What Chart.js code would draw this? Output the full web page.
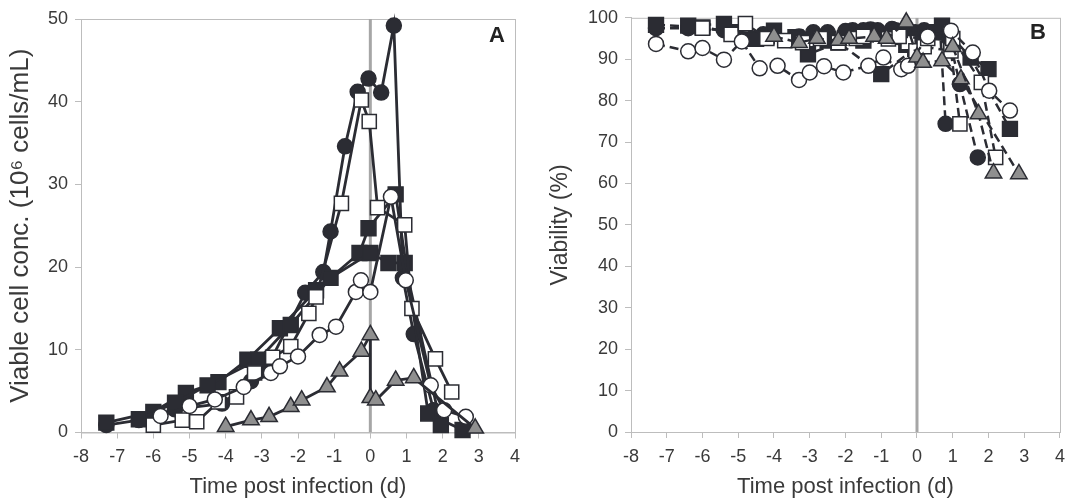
<!DOCTYPE html>
<html>
<head>
<meta charset="utf-8">
<script src="https://cdn.jsdelivr.net/npm/chart.js@4.4.1/dist/chart.umd.min.js"></script>
<style>
  html, body { margin: 0; padding: 0; background: #fff; }
  canvas { position: absolute; top: 0; }
</style>
</head>
<body>
<canvas id="chartA" width="536" height="502" style="left:0"></canvas>
<canvas id="chartB" width="537" height="502" style="left:536px"></canvas>
<script>
/* ---------------------------------------------------
   data (time post infection in d, value)
----------------------------------------------------- */
var xTicks = [-8, -7, -6, -5, -4, -3, -2, -1, 0, 1, 2, 3, 4];
var yTicksA = [0, 10, 20, 30, 40, 50];
var yTicksB = [0, 10, 20, 30, 40, 50, 60, 70, 80, 90, 100];

// panel A: viable cell conc. (10^6 cells/mL)
var cellsFilledCircle = [[-7.3,0.9],[-6.4,1.5],[-5.4,2.8],[-4.1,3.5],[-3.3,6.2],[-2.9,7.5],[-1.8,16.9],[-1.3,19.4],[-1.1,24.3],[-0.7,34.6],[-0.35,41.2],[-0.05,42.8],[0.3,41.1],[0.65,49.2],[0.9,18.7],[1.2,11.9],[1.75,2.7]];
var cellsFilledSquare1 = [[-7.3,1.2],[-6.0,2.5],[-5.1,4.8],[-4.2,6.1],[-3.4,8.8],[-2.5,12.6],[-1.5,17.2],[-0.3,21.7],[-0.05,24.7],[0.7,28.8],[1.6,2.3],[2.55,0.3]];
var cellsFilledSquare2 = [[-6.4,1.6],[-5.4,3.6],[-4.5,5.7],[-3.1,8.8],[-2.2,13.0],[-1.1,18.7],[0.0,21.7],[0.5,20.5],[0.95,20.5],[1.95,0.9]];
var cellsOpenSquare = [[-6.0,0.9],[-5.2,1.5],[-4.8,1.3],[-4.2,3.7],[-3.7,4.3],[-3.2,7.2],[-2.7,9.1],[-2.2,10.4],[-1.7,14.4],[-1.5,16.4],[-0.8,27.7],[-0.25,40.2],[-0.03,37.6],[0.2,27.2],[0.95,25.1],[1.15,15.0],[1.8,8.9],[2.25,4.9]];
var cellsOpenCircle = [[-5.8,2.0],[-5.0,3.2],[-4.3,4.0],[-3.5,5.5],[-2.75,7.2],[-2.5,8.0],[-2.0,9.2],[-1.4,11.8],[-0.95,12.8],[-0.4,17.0],[-0.26,18.4],[0.0,17.0],[0.57,28.5],[0.98,18.4],[1.67,5.7],[2.04,2.7],[2.64,1.9]];
var cellsTriangle = [[-4.0,0.7],[-3.3,1.5],[-2.8,1.9],[-2.2,3.1],[-1.9,3.9],[-1.2,5.5],[-0.85,7.4],[-0.25,9.8],[0.0,11.8],[0.0,4.2],[0.15,3.9],[0.7,6.3],[1.2,6.6],[2.9,0.5]];

// panel B: viability (%)
var viaFilledCircle1 = [[-7.3,97.5],[-6.4,97.5],[-5.4,97.0],[-4.3,96.0],[-3.3,95.5],[-2.9,96.5],[-1.8,97.0],[-1.3,97.2],[-1.1,97.0],[-0.7,97.3],[-0.35,97.0],[-0.05,96.5],[0.3,96.0],[0.65,96.5],[0.8,74.4]];
var viaFilledCircle2 = [[-2.5,96.5],[-2.0,96.8],[-1.5,97.0],[-0.6,97.0],[0.2,97.0],[0.9,95.0],[1.2,84.0],[1.7,66.3]];
var viaFilledSquare1 = [[-7.3,98.3],[-6.0,97.7],[-5.1,96.5],[-4.2,95.5],[-3.4,95.3],[-2.5,94.5],[-1.5,94.5],[-0.3,93.5],[-0.05,92.5],[0.7,98.1],[1.5,90.4],[2.6,73.2]];
var viaFilledSquare2 = [[-6.4,98.1],[-5.4,98.5],[-4.5,94.9],[-4.0,96.9],[-3.05,91.2],[-2.2,94.0],[-1.0,86.4],[0.0,93.0],[0.5,96.5],[0.95,94.0],[2.0,87.6]];
var viaOpenSquare1 = [[-6.0,97.5],[-5.2,96.0],[-4.8,98.6],[-4.2,95.0],[-3.7,94.5],[-3.2,94.0],[-2.7,95.0],[-2.2,94.0],[-1.7,95.0],[-1.5,95.5],[-0.8,94.9],[-0.25,94.0],[-0.03,92.0],[0.2,93.0],[0.95,92.0],[1.2,74.4]];
var viaOpenSquare2 = [[-0.5,95.5],[0.3,95.0],[1.0,95.0],[1.8,84.4],[2.2,66.3]];
var viaOpenCircle = [[-7.3,93.7],[-6.4,91.9],[-6.0,92.7],[-5.4,89.9],[-4.9,94.3],[-4.4,87.8],[-3.9,88.4],[-3.3,85.0],[-3.0,86.8],[-2.6,88.3],[-2.06,86.8],[-1.36,88.4],[-0.94,90.4],[-0.44,87.6],[-0.25,88.4],[0.3,95.5],[0.95,96.9],[1.56,91.6],[2.02,82.4],[2.6,77.6]];
var viaTriangle1 = [[-4.0,95.5],[-3.3,94.0],[-2.8,95.0],[-2.2,94.5],[-1.9,95.0],[-1.2,95.5],[-0.85,95.0],[-0.3,98.9],[0.0,90.5],[0.17,89.2],[0.7,89.6],[1.23,85.2],[2.85,62.3]];
var viaTriangle2 = [[1.0,93.0],[1.72,76.8],[2.14,62.5]];

/* ---------------------------------------------------
   styling helpers
----------------------------------------------------- */
var dark = '#2b2c33';
var triGray = '#8f8f8f';
var axisGray = '#bdbdbd';
var textCol = '#3a3a3a';
var fontName = '"Liberation Sans", Arial, sans-serif';

var markers = {
    fc: { style: 'circle', radius: 7.5, fill: dark },
    oc: { style: 'circle', radius: 7.5, fill: '#ffffff' },
    fs: { style: 'rect', radius: 10.5, fill: dark },
    os: { style: 'rect', radius: 10, fill: '#ffffff' },
    tr: { style: 'triangle', radius: 9.5, fill: triGray }
};

function series(arr, kind, dashed)
{
    var m = markers[kind];
    return {
        data: arr.map(function (p) { return { x: p[0], y: p[1] }; }),
        showLine: true,
        borderColor: dark,
        borderWidth: dashed ? 2.5 : 2.8,
        borderDash: dashed ? [9, 5] : [],
        pointStyle: m.style,
        pointRadius: m.radius,
        pointBackgroundColor: m.fill,
        pointBorderColor: dark,
        pointBorderWidth: 1.5,
        clip: false,
        order: 1
    };
}

function zeroLine(ymax)
{
    return {
        data: [{ x: 0, y: 0 }, { x: 0, y: ymax }],
        showLine: true,
        borderColor: '#a6a6a6',
        borderWidth: 3,
        pointRadius: 0,
        order: 10
    };
}

var framePlugin = {
    id: 'frame',
    beforeDatasetsDraw: function (chart) {
        var a = chart.chartArea, ctx = chart.ctx;
        ctx.save();
        ctx.strokeStyle = axisGray;
        ctx.lineWidth = 1;
        ctx.strokeRect(a.left + 0.5, a.top + 0.5, a.right - a.left, a.bottom - a.top);
        ctx.restore();
    },
    afterDraw: function (chart) {
        var opts = chart.options.plugins.frame, a = chart.chartArea, ctx = chart.ctx;
        ctx.save();
        ctx.fillStyle = '#222';
        ctx.font = 'bold 22px ' + fontName;
        ctx.textAlign = 'center';
        ctx.textBaseline = 'middle';
        ctx.fillText(opts.letter, a.right - opts.dx, a.top + opts.dy);
        ctx.restore();
    }
};

function makeChart(id, datasets, yTicks, yTitle, layout)
{
    var ctx = document.getElementById(id).getContext('2d');
    return new Chart(ctx, {
        type: 'scatter',
        data: { datasets: datasets },
        plugins: [framePlugin],
        options: {
            responsive: false,
            animation: false,
            devicePixelRatio: 1,
            layout: { padding: layout.padding },
            plugins: {
                legend: { display: false },
                tooltip: { enabled: false },
                frame: { letter: layout.letter, dx: layout.dx, dy: layout.dy }
            },
            scales: {
                x: {
                    type: 'linear',
                    min: xTicks[0],
                    max: xTicks[xTicks.length - 1],
                    afterBuildTicks: function (s) { s.ticks = xTicks.map(function (v) { return { value: v }; }); },
                    afterFit: function (s) { s.height = layout.xHeight; },
                    grid: { drawOnChartArea: false, color: axisGray, tickLength: 6 },
                    border: { color: axisGray },
                    ticks: { color: textCol, font: { family: fontName, size: 18 }, padding: 8, callback: function (v) { return String(v); } },
                    title: { display: true, text: 'Time post infection (d)', color: textCol, font: { family: fontName, size: 22 }, padding: { top: 0, bottom: 2 } }
                },
                y: {
                    type: 'linear',
                    min: yTicks[0],
                    max: yTicks[yTicks.length - 1],
                    afterBuildTicks: function (s) { s.ticks = yTicks.map(function (v) { return { value: v }; }); },
                    afterFit: function (s) { s.width = layout.yWidth; },
                    grid: { drawOnChartArea: false, color: axisGray, tickLength: 6 },
                    border: { color: axisGray },
                    ticks: { color: textCol, font: { family: fontName, size: 18 }, padding: 7, callback: function (v) { return String(v); } },
                    title: { display: true, text: yTitle, color: textCol, font: { family: fontName, size: layout.yTitleSize }, padding: { top: layout.yTitlePad, bottom: 0 } }
                }
            }
        }
    });
}

/* ---------------------------------------------------
   panel A
----------------------------------------------------- */
makeChart('chartA', [
    series(cellsTriangle, 'tr', false),
    series(cellsOpenCircle, 'oc', false),
    series(cellsOpenSquare, 'os', false),
    series(cellsFilledSquare2, 'fs', false),
    series(cellsFilledSquare1, 'fs', false),
    series(cellsFilledCircle, 'fc', false),
    zeroLine(50)
], yTicksA, 'Viable cell conc. (10\u2076 cells/mL)', {
    padding: { left: 0, right: 21, top: 19, bottom: 0 },
    yWidth: 81, xHeight: 69.5, yTitleSize: 26, yTitlePad: 5, letter: 'A', dx: 18, dy: 17
});

/* ---------------------------------------------------
   panel B
----------------------------------------------------- */
makeChart('chartB', [
    series(viaTriangle2, 'tr', true),
    series(viaTriangle1, 'tr', true),
    series(viaOpenCircle, 'oc', true),
    series(viaOpenSquare2, 'os', true),
    series(viaOpenSquare1, 'os', true),
    series(viaFilledSquare2, 'fs', true),
    series(viaFilledSquare1, 'fs', true),
    series(viaFilledCircle2, 'fc', true),
    series(viaFilledCircle1, 'fc', true),
    zeroLine(100)
], yTicksB, 'Viability (%)', {
    padding: { left: 0, right: 10, top: 17, bottom: 0 },
    yWidth: 95, xHeight: 70, yTitleSize: 23, yTitlePad: 11, letter: 'B', dx: 22, dy: 15
});
</script>
</body>
</html>
